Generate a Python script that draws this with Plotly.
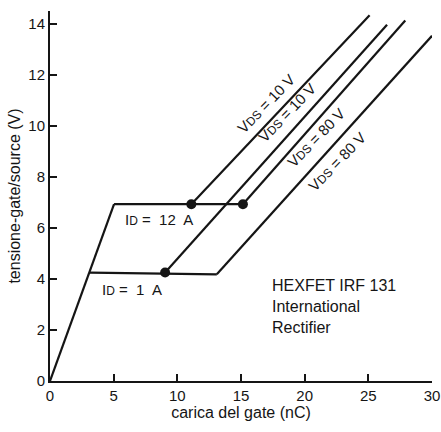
import plotly.graph_objects as go

# ---- data ----
ramp_x = [0, 5.03]
ramp_y = [0, 6.93]

plateau_12A_x = [5.03, 15.15]
plateau_12A_y = [6.93, 6.93]

plateau_1A_x = [3.14, 13.1]
plateau_1A_y = [4.25, 4.18]

vds10_12A_x = [11.1, 25.1]
vds10_12A_y = [6.93, 14.33]

vds80_12A_x = [15.15, 27.9]
vds80_12A_y = [6.93, 14.13]

vds10_1A_x = [9.04, 26.47]
vds10_1A_y = [4.25, 13.96]

vds80_1A_x = [13.1, 30.0]
vds80_1A_y = [4.18, 13.53]

dots_x = [11.1, 15.15, 9.04]
dots_y = [6.93, 6.93, 4.25]

x_ticks = [0, 5, 10, 15, 20, 25, 30]
y_ticks = [0, 2, 4, 6, 8, 10, 12, 14]

FONT = "Liberation Sans, Arial, Helvetica, sans-serif"
INK = "#151515"

fig = go.Figure()
segments = [
    (ramp_x, ramp_y),
    (plateau_12A_x, plateau_12A_y),
    (plateau_1A_x, plateau_1A_y),
    (vds10_12A_x, vds10_12A_y),
    (vds80_12A_x, vds80_12A_y),
    (vds10_1A_x, vds10_1A_y),
    (vds80_1A_x, vds80_1A_y),
]
for sx, sy in segments:
    fig.add_trace(go.Scatter(x=sx, y=sy, mode="lines",
                             line=dict(color=INK, width=2.2),
                             cliponaxis=False, showlegend=False, hoverinfo="skip"))
fig.add_trace(go.Scatter(x=dots_x, y=dots_y, mode="markers",
                         marker=dict(color=INK, size=10),
                         cliponaxis=False, showlegend=False))

sm = '<span style="font-size:12px">{}</span>'
vds = "V" + sm.format("DS") + " = {} V"
labels = [
    (16.98, 10.86, vds.format(10)),
    (18.63, 10.51, vds.format(10)),
    (20.9, 9.53, vds.format(80)),
    (22.56, 8.59, vds.format(80)),
]
for x, y, t in labels:
    fig.add_annotation(x=x, y=y, text=t, showarrow=False, textangle=-46,
                       font=dict(size=15, color=INK, family=FONT))

fig.add_annotation(x=8.57, y=6.31, text="I" + sm.format("D") + " =  12  A", showarrow=False,
                   font=dict(size=15, color=INK, family=FONT))
fig.add_annotation(x=6.45, y=3.57, text="I" + sm.format("D") + " =  1  A", showarrow=False,
                   font=dict(size=15, color=INK, family=FONT))
fig.add_annotation(x=17.3, y=4.15, text="HEXFET IRF 131<br>International<br>Rectifier",
                   showarrow=False, xanchor="left", yanchor="top", align="left",
                   font=dict(size=16, color=INK, family=FONT))

fig.update_layout(
    width=441, height=432,
    margin=dict(l=50, r=9, t=11, b=51),
    paper_bgcolor="white", plot_bgcolor="white",
    font=dict(family=FONT, size=15, color=INK),
    xaxis=dict(range=[0, 30], tickvals=x_ticks, ticks="inside", ticklen=7, tickwidth=1.5,
               tickcolor=INK, showline=True, linecolor=INK, linewidth=2, showgrid=False,
               zeroline=False, ticklabeloverflow="allow",
               title=dict(text="carica del gate (nC)", standoff=4,
                          font=dict(size=16, family=FONT, color=INK)),
               automargin=False),
    yaxis=dict(range=[0, 14.5], tickvals=y_ticks, ticks="inside", ticklen=7, tickwidth=1.5,
               tickcolor=INK, showline=True, linecolor=INK, linewidth=2, showgrid=False,
               zeroline=False,
               title=dict(text="tensione-gate/source (V)", standoff=4,
                          font=dict(size=16, family=FONT, color=INK)),
               automargin=False),
)

fig.write_html("out.html", config={"displayModeBar": False},
               post_script="document.body.style.margin='0';")
